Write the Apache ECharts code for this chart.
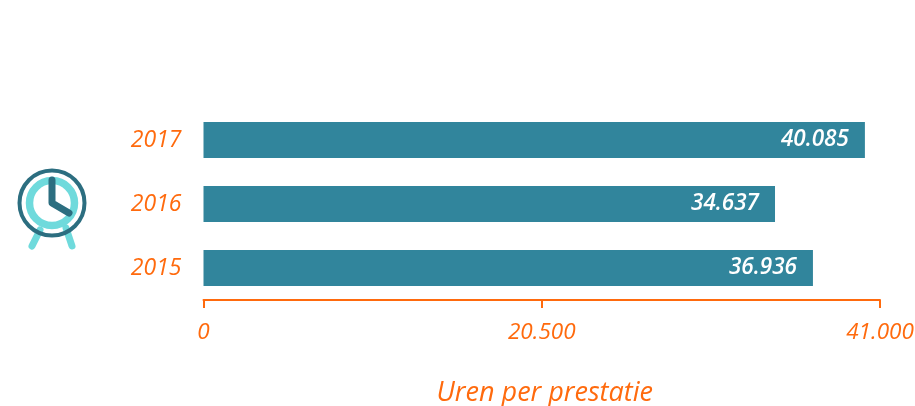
<!DOCTYPE html>
<html>
<head>
<meta charset="utf-8">
<style>
    html, body { margin: 0; padding: 0; background: #fff; }
    #main { width: 915px; height: 406px; }
</style>
</head>
<body>
<div id="main"></div>
<script src="https://cdn.jsdelivr.net/npm/echarts@6/dist/echarts.min.js"></script>
<script>
    var categories = ['2017', '2016', '2015']
    var uren = [40085, 34637, 36936]
    var tickValues = [0, 20500, 41000]
    var axisTitle = 'Uren per prestatie'

    var orange = '#ff6a0d'
    var barColor = '#31859c'
    var iconDark = '#2c6e80'
    var iconLight = '#6fdadc'
    var font = '"Open Sans", sans-serif'

    // 20500 -> 20.500
    function dutchNumber (value) {
        return String(value).replace(/\B(?=(\d{3})+$)/g, '.')
    }

    var myChart = echarts.init(document.getElementById('main'), null, {renderer: 'canvas'})
    var option = {
        animation: false,
        backgroundColor: '#fff',
        grid: {left: 203.5, right: 35, top: 108, bottom: 106, containLabel: false, outerBoundsMode: 'none'},
        xAxis: {
            type: 'value',
            min: tickValues[0],
            max: tickValues[2],
            interval: tickValues[1],
            splitLine: {show: false},
            axisLine: {show: true, lineStyle: {color: orange, width: 2}},
            axisTick: {show: true, length: 8, lineStyle: {color: orange, width: 2}},
            axisLabel: {
                show: true,
                margin: 21,
                color: orange,
                fontFamily: font,
                fontStyle: 'italic',
                fontSize: 22.5,
                hideOverlap: false,
                showMinLabel: true,
                showMaxLabel: true,
                formatter: dutchNumber
            },
            name: axisTitle,
            nameLocation: 'middle',
            nameGap: 80,
            nameTextStyle: {
                color: orange,
                fontFamily: font,
                fontStyle: 'italic',
                fontSize: 27,
                padding: [0, 0, 0, 6]
            }
        },
        yAxis: {
            type: 'category',
            inverse: true,
            data: categories,
            axisLine: {show: false},
            axisTick: {show: false},
            axisLabel: {
                margin: 22,
                padding: [2, 0, 0, 0],
                color: orange,
                fontFamily: font,
                fontStyle: 'italic',
                fontSize: 23
            }
        },
        series: [{
            type: 'bar',
            data: uren,
            barWidth: 36,
            itemStyle: {color: barColor},
            label: {
                show: true,
                position: 'insideRight',
                distance: 16,
                padding: [2, 0, 0, 0],
                color: '#fff',
                fontFamily: font,
                fontStyle: 'italic',
                fontWeight: 600,
                fontSize: 22.5,
                formatter: function (p) { return dutchNumber(p.value) }
            }
        }],
        // klok-icoon links
        graphic: [
            {type: 'line', shape: {x1: 40, y1: 230, x2: 32, y2: 246}, style: {stroke: iconLight, lineWidth: 7, lineCap: 'round'}},
            {type: 'line', shape: {x1: 66, y1: 228, x2: 72, y2: 246}, style: {stroke: iconLight, lineWidth: 7, lineCap: 'round'}},
            {type: 'circle', shape: {cx: 52, cy: 203, r: 22.5}, style: {fill: 'none', stroke: iconLight, lineWidth: 7.5}},
            {type: 'circle', shape: {cx: 52, cy: 203, r: 32.5}, style: {fill: 'none', stroke: iconDark, lineWidth: 4}},
            {type: 'polyline', shape: {points: [[52, 180], [52, 203], [69, 213]]}, style: {fill: 'none', stroke: iconDark, lineWidth: 7, lineCap: 'round', lineJoin: 'round'}}
        ]
    }
    myChart.setOption(option)
</script>
</body>
</html>
